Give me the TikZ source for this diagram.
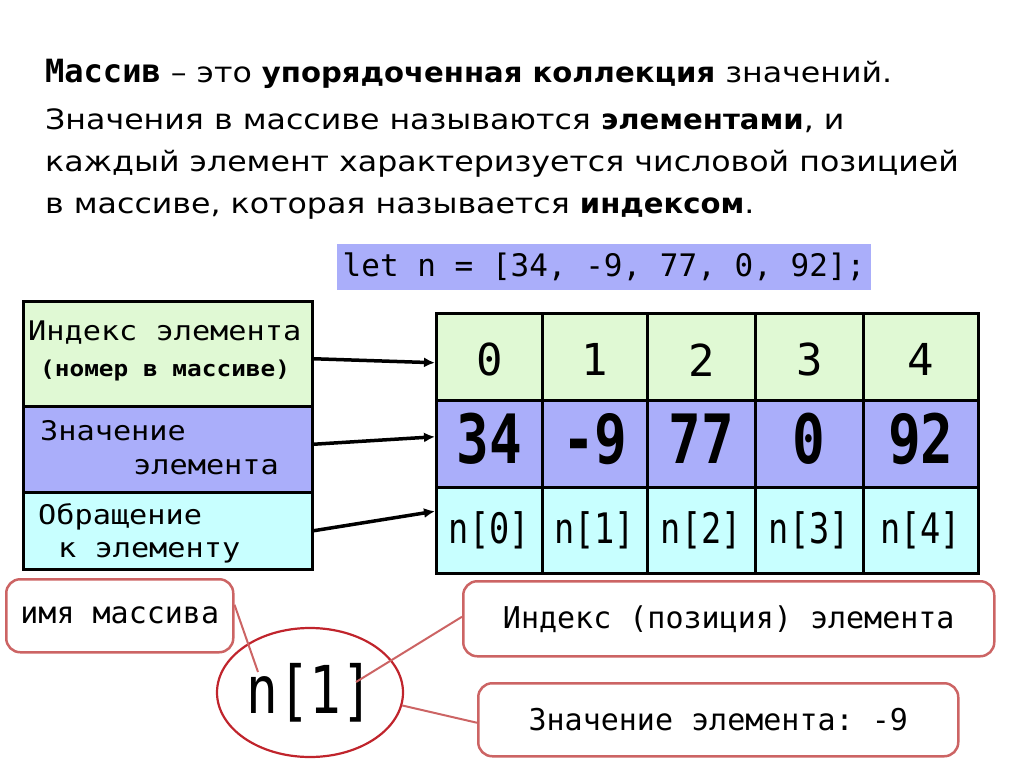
\documentclass[tikz,border=0pt]{standalone}
\usepackage{fontspec}
\setmainfont{DejaVu Sans}
\setmonofont{DejaVu Sans Mono}
\newfontfamily\headfont{DejaVu Sans}[FakeStretch=1.13]
\newfontfamily\headbold{DejaVu Sans}[FakeStretch=1.04]
\newfontfamily\legendfont{DejaVu Sans Mono}[FakeStretch=1.12]
\newfontfamily\cellfont{DejaVu Sans Mono}[FakeStretch=0.8]
\usetikzlibrary{arrows.meta,shapes.geometric}

\definecolor{idxgreen}{RGB}{224,249,212}
\definecolor{valblue}{RGB}{170,174,250}
\definecolor{refcyan}{RGB}{200,255,255}
\definecolor{boxred}{RGB}{204,100,100}
\definecolor{ringred}{RGB}{192,36,44}
\newcommand{\fsz}[1]{\fontsize{#1}{#1}\selectfont}
\newcommand{\hb}[1]{{\headbold\bfseries#1}}

\begin{document}
\begin{tikzpicture}
  [x=1pt,y=-1pt,every node/.style={inner sep=0pt},
   cell/.style={draw,line width=2.5pt,minimum height=87pt,anchor=north west},
   row/.style={draw,line width=2.5pt,minimum width=289pt,anchor=north west},
   txt/.style={anchor=base west},
   tag/.style={draw=boxred,line width=2.5pt,rounded corners=14pt,anchor=north west},
   callout/.style={draw=boxred,line width=2pt},
   arr/.style={-{Latex[length=11pt,width=10pt]},line width=3.5pt}]
  \useasboundingbox (0,0) rectangle (1024,767);
  % definition text
  \node[txt] (line1) at (45,83) {\fsz{28}\headfont{\ttfamily\bfseries\fsz{32}Массив} – это \hb{упорядоченная коллекция} значений.};
  \node[txt] (line2) at (45,130) {\fsz{28}\headfont Значения в массиве называются \hb{элементами}, и};
  \node[txt] (line3) at (45,172) {\fsz{28}\headfont каждый элемент характеризуется числовой позицией};
  \node[txt] (line4) at (45,214) {\fsz{28}\headfont в массиве, которая называется \hb{индексом}.};
  \node[fill=valblue,minimum width=534pt,minimum height=46pt] (code) at (604,267)
    {\fsz{31}\ttfamily let n = [34, -9, 77, 0, 92];};
  % legend on the left
  \node[row,fill=idxgreen,minimum height=105pt] (idx) at (22,300) {};
  \node[row,fill=valblue,minimum height=86pt] (val) at (22,405) {};
  \node[row,fill=refcyan,minimum height=77pt] (ref) at (22,491) {};
  \node[txt] (idx1) at (28,340) {\fsz{27}\legendfont Индекс элемента};
  \node[txt] (idx2) at (40,376) {\fsz{21.8}\legendfont\bfseries (номер в массиве)};
  \node[txt] (val1) at (40,440) {\fsz{27}\legendfont Значение};
  \node[txt] (val2) at (133,474) {\fsz{27}\legendfont элемента};
  \node[txt] (ref1) at (38,524) {\fsz{27}\legendfont Обращение};
  \node[txt] (ref2) at (58,557) {\fsz{27}\legendfont к элементу};
  % the array
  \foreach \i/\xa/\w/\v in {0/435/106/34,1/541/105/-9,2/646/108/77,3/754/108/0,4/862/115/92} {
    \node[cell,fill=idxgreen,minimum width=\w] (i\i) at (\xa,312) {};
    \node[cell,fill=valblue,minimum width=\w] (v\i) at (\xa,399) {};
    \node[cell,fill=refcyan,minimum width=\w,minimum height=86pt] (r\i) at (\xa,486) {};
    \node[yshift=-3pt] (ti\i) at (i\i) {\fsz{44}\ttfamily\i};
    \node[yshift=5pt] (tv\i) at (v\i) {\fsz{68}\cellfont\bfseries\v};
    \node (tr\i) at (r\i) {\fsz{42}\cellfont n[\i]};
  }
  \draw[arr] ([yshift=-5pt]idx.east) -- ([yshift=-6pt]i0.west);
  \draw[arr] ([yshift=5pt]val.east) -- ([yshift=7pt]v0.west);
  \draw[arr] (ref.east) -- ([yshift=19pt]r0.west);
  % access n[1]
  \node[tag,minimum width=227pt,minimum height=73pt] (name) at (5,578) {\fsz{30}\ttfamily имя массива};
  \node[tag,minimum width=531pt,minimum height=75pt] (pos) at (462,580) {\fsz{30}\ttfamily Индекс (позиция) элемента};
  \node[tag,minimum width=480pt,minimum height=73pt] (elem) at (477,682) {\fsz{30}\ttfamily Значение элемента: -9};
  \node[draw=ringred,line width=2.2pt,ellipse,minimum width=186pt,minimum height=129pt] (ring) at (310,692.5)
    {\fsz{66}\cellfont n[1]};
  \coordinate (nameend) at (258,672);
  \coordinate (posend) at (356,682);
  \draw[callout] ([yshift=11pt]name.east) -- (nameend);
  \draw[callout] ([yshift=2pt]pos.west) -- (posend);
  \draw[callout] (ring.-8) -- ([yshift=-3pt]elem.west);
\end{tikzpicture}
\end{document}
